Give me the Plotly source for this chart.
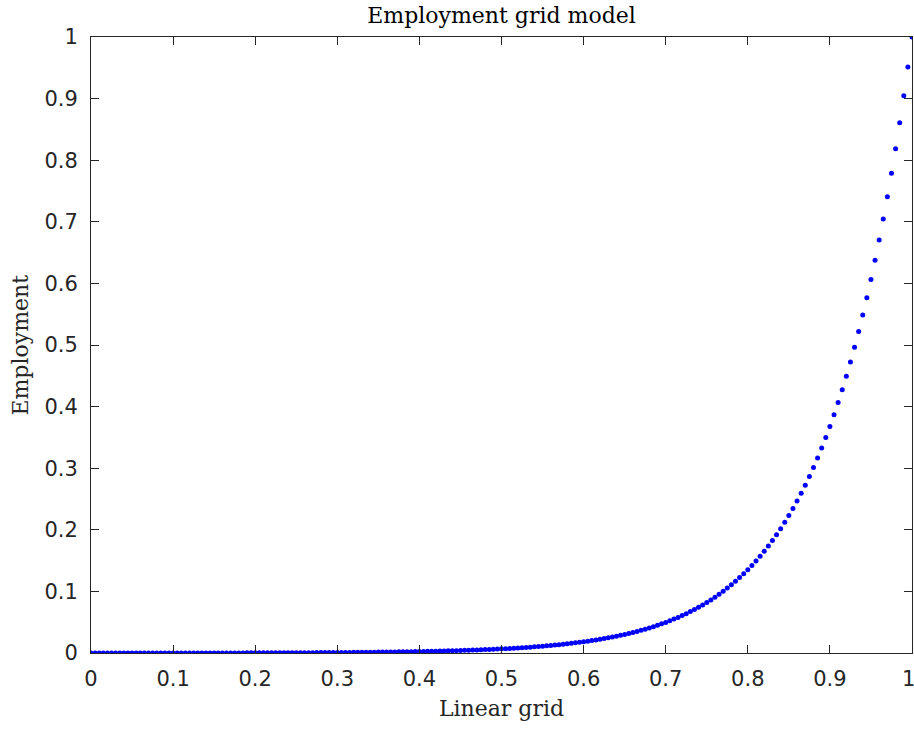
import plotly.graph_objects as go

# linear grid (x) and employment values (y)
linear_grid = [
    0.000, 0.005, 0.010, 0.015, 0.020, 0.025, 0.030, 0.035, 0.040, 0.045,
    0.050, 0.055, 0.060, 0.065, 0.070, 0.075, 0.080, 0.085, 0.090, 0.095,
    0.100, 0.105, 0.110, 0.115, 0.120, 0.125, 0.130, 0.135, 0.140, 0.145,
    0.150, 0.155, 0.160, 0.165, 0.170, 0.175, 0.180, 0.185, 0.190, 0.195,
    0.200, 0.205, 0.210, 0.215, 0.220, 0.225, 0.230, 0.235, 0.240, 0.245,
    0.250, 0.255, 0.260, 0.265, 0.270, 0.275, 0.280, 0.285, 0.290, 0.295,
    0.300, 0.305, 0.310, 0.315, 0.320, 0.325, 0.330, 0.335, 0.340, 0.345,
    0.350, 0.355, 0.360, 0.365, 0.370, 0.375, 0.380, 0.385, 0.390, 0.395,
    0.400, 0.405, 0.410, 0.415, 0.420, 0.425, 0.430, 0.435, 0.440, 0.445,
    0.450, 0.455, 0.460, 0.465, 0.470, 0.475, 0.480, 0.485, 0.490, 0.495,
    0.500, 0.505, 0.510, 0.515, 0.520, 0.525, 0.530, 0.535, 0.540, 0.545,
    0.550, 0.555, 0.560, 0.565, 0.570, 0.575, 0.580, 0.585, 0.590, 0.595,
    0.600, 0.605, 0.610, 0.615, 0.620, 0.625, 0.630, 0.635, 0.640, 0.645,
    0.650, 0.655, 0.660, 0.665, 0.670, 0.675, 0.680, 0.685, 0.690, 0.695,
    0.700, 0.705, 0.710, 0.715, 0.720, 0.725, 0.730, 0.735, 0.740, 0.745,
    0.750, 0.755, 0.760, 0.765, 0.770, 0.775, 0.780, 0.785, 0.790, 0.795,
    0.800, 0.805, 0.810, 0.815, 0.820, 0.825, 0.830, 0.835, 0.840, 0.845,
    0.850, 0.855, 0.860, 0.865, 0.870, 0.875, 0.880, 0.885, 0.890, 0.895,
    0.900, 0.905, 0.910, 0.915, 0.920, 0.925, 0.930, 0.935, 0.940, 0.945,
    0.950, 0.955, 0.960, 0.965, 0.970, 0.975, 0.980, 0.985, 0.990, 0.995,
    1.000,
]
employment = [
    0.0000, 0.0000, 0.0000, 0.0000, 0.0000, 0.0000, 0.0000, 0.0000, 0.0000, 0.0000,
    0.0000, 0.0000, 0.0000, 0.0000, 0.0000, 0.0001, 0.0001, 0.0001, 0.0001, 0.0001,
    0.0001, 0.0001, 0.0001, 0.0001, 0.0001, 0.0001, 0.0001, 0.0001, 0.0001, 0.0001,
    0.0002, 0.0002, 0.0002, 0.0002, 0.0002, 0.0002, 0.0002, 0.0002, 0.0003, 0.0003,
    0.0003, 0.0003, 0.0003, 0.0003, 0.0004, 0.0004, 0.0004, 0.0004, 0.0005, 0.0005,
    0.0005, 0.0005, 0.0006, 0.0006, 0.0006, 0.0007, 0.0007, 0.0007, 0.0008, 0.0008,
    0.0009, 0.0009, 0.0010, 0.0010, 0.0011, 0.0011, 0.0012, 0.0012, 0.0013, 0.0014,
    0.0015, 0.0015, 0.0016, 0.0017, 0.0018, 0.0019, 0.0020, 0.0021, 0.0022, 0.0023,
    0.0024, 0.0026, 0.0027, 0.0028, 0.0030, 0.0031, 0.0033, 0.0035, 0.0037, 0.0038,
    0.0040, 0.0043, 0.0045, 0.0047, 0.0049, 0.0052, 0.0055, 0.0058, 0.0061, 0.0064,
    0.0067, 0.0070, 0.0074, 0.0078, 0.0082, 0.0086, 0.0090, 0.0095, 0.0100, 0.0105,
    0.0111, 0.0116, 0.0122, 0.0129, 0.0135, 0.0142, 0.0150, 0.0157, 0.0165, 0.0174,
    0.0183, 0.0192, 0.0202, 0.0212, 0.0223, 0.0235, 0.0247, 0.0259, 0.0273, 0.0287,
    0.0302, 0.0317, 0.0333, 0.0350, 0.0368, 0.0387, 0.0407, 0.0428, 0.0450, 0.0473,
    0.0497, 0.0523, 0.0550, 0.0578, 0.0608, 0.0639, 0.0672, 0.0706, 0.0742, 0.0780,
    0.0820, 0.0862, 0.0907, 0.0953, 0.1002, 0.1054, 0.1108, 0.1164, 0.1224, 0.1287,
    0.1353, 0.1422, 0.1495, 0.1572, 0.1653, 0.1737, 0.1826, 0.1920, 0.2019, 0.2122,
    0.2231, 0.2345, 0.2466, 0.2592, 0.2725, 0.2865, 0.3011, 0.3166, 0.3328, 0.3499,
    0.3678, 0.3867, 0.4065, 0.4274, 0.4493, 0.4723, 0.4965, 0.5220, 0.5488, 0.5769,
    0.6065, 0.6376, 0.6703, 0.7046, 0.7408, 0.7788, 0.8187, 0.8607, 0.9048, 0.9512,
    1.0000,
]
tick_vals = [0, 0.1, 0.2, 0.3, 0.4, 0.5, 0.6, 0.7, 0.8, 0.9, 1]
tick_text = ["0", "0.1", "0.2", "0.3", "0.4", "0.5", "0.6", "0.7", "0.8", "0.9", "1"]
# last x label sits at the page edge; a trailing no-break space nudges it inside
x_tick_text = tick_text[:-1] + ["1\u00a0"]

AXIS_COLOR = "#262626"
SERIF = "DejaVu Serif, serif"
SANS = "DejaVu Sans, sans-serif"

fig = go.Figure(go.Scatter(
    x=linear_grid, y=employment, mode="markers",
    marker=dict(color="#0000ff", size=5, line=dict(width=0)),
    showlegend=False,
))

axis_style = dict(
    range=[0, 1], tickvals=tick_vals,
    showgrid=False, zeroline=False, automargin=False,
    showline=True, linecolor=AXIS_COLOR, linewidth=1, mirror="ticks",
    ticks="inside", ticklen=8, tickwidth=1, tickcolor=AXIS_COLOR,
    tickfont=dict(family=SANS, size=21, color=AXIS_COLOR),
    ticklabeloverflow="allow",
)
fig.update_xaxes(**axis_style, ticktext=x_tick_text, ticklabelstandoff=7,
                 title=dict(text="Linear grid", standoff=10,
                            font=dict(family=SERIF, size=22, color=AXIS_COLOR)))
fig.update_yaxes(**axis_style, ticktext=tick_text, ticklabelstandoff=8)

# y axis title sits closer to the edge than plotly's standoff allows
fig.add_annotation(
    text="Employment", textangle=-90, showarrow=False,
    xref="paper", yref="paper", x=-0.087, y=0.5,
    xanchor="center", yanchor="middle",
    font=dict(family=SERIF, size=22, color=AXIS_COLOR),
)

fig.update_layout(
    width=914, height=729,
    paper_bgcolor="white", plot_bgcolor="white",
    margin=dict(l=91, r=2, t=37, b=76),
    title=dict(text="Employment grid model", x=0.5, xref="paper", xanchor="center",
               y=1 - 15 / 729, yanchor="middle",
               font=dict(family=SERIF, size=22, color="#000000")),
)

# the page's default body margin would shift the figure by 8px
fig.write_html("out.html", config={"displayModeBar": False},
               post_script="document.body.style.margin='0px';")
